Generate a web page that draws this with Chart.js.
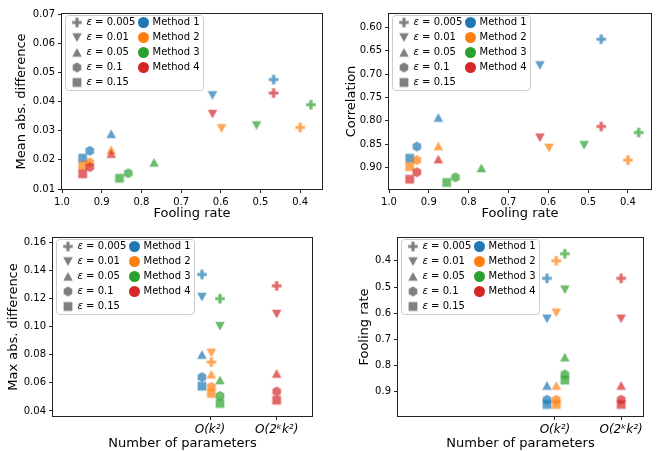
<!DOCTYPE html>
<html>
<head>
<meta charset="utf-8">
<script src="https://cdn.jsdelivr.net/npm/chart.js@4.4.1/dist/chart.umd.min.js"></script>
<style>
  body { margin: 0; background: #fff; }
  #wrap { position: relative; width: 659px; height: 451px; }
  .panel { position: absolute; }
</style>
</head>
<body>
<div id="wrap">
  <div class="panel" style="left:0;top:0"><canvas id="meanChart" width="330" height="225"></canvas></div>
  <div class="panel" style="left:330px;top:0"><canvas id="corrChart" width="329" height="225"></canvas></div>
  <div class="panel" style="left:0;top:225px"><canvas id="maxChart" width="330" height="226"></canvas></div>
  <div class="panel" style="left:330px;top:225px"><canvas id="frChart" width="329" height="226"></canvas></div>
</div>
<script>
// data: rows = methods, columns = epsilon values
const methods = ['Method 1', 'Method 2', 'Method 3', 'Method 4'];
const epsLabels = ['0.005', '0.01', '0.05', '0.1', '0.15'];

const foolingRate = [
    [0.467, 0.621, 0.876, 0.930, 0.948],
    [0.400, 0.598, 0.876, 0.930, 0.948],
    [0.373, 0.510, 0.768, 0.833, 0.855],
    [0.467, 0.621, 0.876, 0.930, 0.948]
];
const meanAbsDiff = [
    [0.0475, 0.0421, 0.0289, 0.0231, 0.0206],
    [0.0311, 0.0308, 0.0234, 0.0191, 0.0180],
    [0.0389, 0.0318, 0.0191, 0.0154, 0.0137],
    [0.0429, 0.0357, 0.0221, 0.0175, 0.0152]
];
const correlation = [
    [0.625, 0.681, 0.793, 0.855, 0.880],
    [0.884, 0.858, 0.854, 0.884, 0.898],
    [0.825, 0.852, 0.901, 0.921, 0.932],
    [0.812, 0.836, 0.882, 0.910, 0.925]
];
const maxAbsDiff = [
    [0.137, 0.121, 0.080, 0.064, 0.0576],
    [0.0747, 0.0813, 0.066, 0.0571, 0.0524],
    [0.1198, 0.1003, 0.0619, 0.0507, 0.0453],
    [0.1289, 0.1089, 0.0666, 0.0538, 0.0476]
];

// number of parameters: group per method and small offset so markers don't overlap
const paramLabels = ['O(k²)', 'O(2ᵏk²)'];
const paramGroup = [1, 1, 1, 2];
const jitter = [-0.12, 0.02, 0.15, 0];

// tick labels
const frTicks = [1.0, 0.9, 0.8, 0.7, 0.6, 0.5, 0.4];
const meanTicks = [0.01, 0.02, 0.03, 0.04, 0.05, 0.06, 0.07];
const corrTicks = [0.60, 0.65, 0.70, 0.75, 0.80, 0.85, 0.90];
const maxTicks = [0.04, 0.06, 0.08, 0.10, 0.12, 0.14, 0.16];
const frYTicks = [0.4, 0.5, 0.6, 0.7, 0.8, 0.9];

const FONT = 'DejaVu Sans';
const colors = ['#1f77b4', '#ff7f0e', '#2ca02c', '#d62728'];
const shapes = ['plus', 'down', 'up', 'hex', 'square'];

function rgba(hex, a) {
    const n = parseInt(hex.slice(1), 16);
    return 'rgba(' + (n >> 16) + ',' + ((n >> 8) & 255) + ',' + (n & 255) + ',' + a + ')';
}

// marker images (matplotlib style filled plus, triangles, hexagon, square)
function marker(shape, color) {
    const c = document.createElement('canvas');
    c.width = 12;
    c.height = 12;
    const g = c.getContext('2d');
    g.fillStyle = color;
    g.translate(6, 6);
    g.beginPath();
    if (shape === 'plus') {
        const a = 4.8, b = 1.6;
        g.moveTo(-b, -a); g.lineTo(b, -a); g.lineTo(b, -b); g.lineTo(a, -b);
        g.lineTo(a, b); g.lineTo(b, b); g.lineTo(b, a); g.lineTo(-b, a);
        g.lineTo(-b, b); g.lineTo(-a, b); g.lineTo(-a, -b); g.lineTo(-b, -b);
    } else if (shape === 'down') {
        g.moveTo(-4.8, -4.3); g.lineTo(4.8, -4.3); g.lineTo(0, 4.5);
    } else if (shape === 'up') {
        g.moveTo(-4.8, 4.3); g.lineTo(4.8, 4.3); g.lineTo(0, -4.5);
    } else if (shape === 'hex') {
        for (let i = 0; i < 6; i++) {
            const t = -Math.PI / 2 + i * Math.PI / 3;
            g.lineTo(5 * Math.cos(t), 5 * Math.sin(t));
        }
    } else {
        g.rect(-4.4, -4.4, 8.8, 8.8);
    }
    g.closePath();
    g.fill();
    return c;
}

const methodMarkers = colors.map(col => shapes.map(s => marker(s, rgba(col, 0.7))));
const grayMarkers = shapes.map(s => marker(s, '#808080'));

// frame around the plot area + the two-column legend
const framePlugin = {
    id: 'frameLegend',
    afterDraw(chart) {
        const ctx = chart.ctx;
        const a = chart.chartArea;
        ctx.save();
        ctx.strokeStyle = '#222';
        ctx.lineWidth = 1;
        ctx.strokeRect(a.left - 0.5, a.top - 0.5, a.right - a.left + 1, a.bottom - a.top + 1);

        const bx = Math.round(a.left + 3) + 0.5;
        const by = Math.round(a.top + 1) + 0.5;
        const bw = 138, bh = 75;
        ctx.beginPath();
        ctx.roundRect(bx, by, bw, bh, 3);
        ctx.fillStyle = 'rgba(255,255,255,0.8)';
        ctx.fill();
        ctx.strokeStyle = '#cccccc';
        ctx.stroke();

        ctx.textBaseline = 'middle';
        ctx.fillStyle = '#000';
        epsLabels.forEach((lab, i) => {
            const y = by + 7 + 15 * i;
            ctx.drawImage(grayMarkers[i], bx + 11.5 - 6, y - 6);
            ctx.font = 'italic 10px "' + FONT + '"';
            ctx.fillText('ε', bx + 21, y);
            const w = ctx.measureText('ε').width;
            ctx.font = '10px "' + FONT + '"';
            ctx.fillText(' = ' + lab, bx + 21 + w, y);
        });
        methods.forEach((lab, i) => {
            const y = by + 7 + 15 * i;
            ctx.beginPath();
            ctx.arc(bx + 78, y, 5.5, 0, Math.PI * 2);
            ctx.fillStyle = colors[i];
            ctx.fill();
            ctx.fillStyle = '#000';
            ctx.font = '10px "' + FONT + '"';
            ctx.fillText(lab, bx + 87, y);
        });
        ctx.restore();
    }
};

function scale(o) {
    return {
        type: 'linear',
        min: o.min,
        max: o.max,
        reverse: !!o.reverse,
        afterFit: s => { if (o.width) s.width = o.width; if (o.height) s.height = o.height; },
        afterBuildTicks: s => { s.ticks = o.ticks.map(v => ({ value: v })); },
        ticks: {
            callback: o.format,
            font: { family: FONT, size: o.tickSize || 10, style: o.tickStyle || 'normal' },
            color: '#000',
            padding: 3,
            autoSkip: false,
            maxRotation: 0
        },
        grid: { drawOnChartArea: false, drawTicks: true, tickLength: 4, color: '#222', lineWidth: 1 },
        border: { display: false },
        title: {
            display: true,
            text: o.title,
            font: { family: FONT, size: 13 },
            color: '#000',
            padding: o.titlePad
        }
    };
}

function makeChart(id, datasets, xScale, yScale, pad) {
    const ctx = document.getElementById(id).getContext('2d');
    return new Chart(ctx, {
        type: 'scatter',
        data: { datasets: datasets },
        options: {
            responsive: false,
            animation: false,
            devicePixelRatio: 1,
            events: [],
            layout: { padding: pad },
            plugins: { legend: { display: false }, tooltip: { enabled: false } },
            scales: { x: xScale, y: yScale }
        },
        plugins: [framePlugin]
    });
}

function sets(fn) {
    return methods.map((name, m) => ({
        label: name,
        data: fn(m),
        pointStyle: methodMarkers[m],
        pointRadius: 5,
        order: 3 - m
    }));
}

const fmt1 = v => v.toFixed(1);
const fmt2 = v => v.toFixed(2);
const paramFmt = v => paramLabels[v - 1];

// mean abs. difference vs fooling rate
makeChart('meanChart',
    sets(m => foolingRate[m].map((fr, e) => ({ x: fr, y: meanAbsDiff[m][e] }))),
    scale({ min: 0.345, max: 1.0, reverse: true, ticks: frTicks, format: fmt1, height: 36,
            title: 'Fooling rate', titlePad: { top: 0, bottom: 4 } }),
    scale({ min: 0.01, max: 0.07, ticks: meanTicks, format: fmt2, width: 62,
            title: 'Mean abs. difference', titlePad: { top: 14, bottom: 0 } }),
    { left: 0, top: 14, right: 8, bottom: 0 });

// correlation vs fooling rate
makeChart('corrChart',
    sets(m => foolingRate[m].map((fr, e) => ({ x: fr, y: correlation[m][e] }))),
    scale({ min: 0.342, max: 1.0, reverse: true, ticks: frTicks, format: fmt1, height: 36,
            title: 'Fooling rate', titlePad: { top: 0, bottom: 4 } }),
    scale({ min: 0.571, max: 0.946, reverse: true, ticks: corrTicks, format: fmt2, width: 59,
            title: 'Correlation', titlePad: { top: 14, bottom: 0 } }),
    { left: 0, top: 14, right: 8, bottom: 0 });

// max abs. difference vs number of parameters
makeChart('maxChart',
    sets(m => maxAbsDiff[m].map(v => ({ x: paramGroup[m] + jitter[m], y: v }))),
    scale({ min: -1.355, max: 2.53, ticks: [1, 2], format: paramFmt, height: 35, tickSize: 12, tickStyle: 'italic',
            title: 'Number of parameters', titlePad: { top: 0, bottom: 0 } }),
    scale({ min: 0.0364, max: 0.1629, ticks: maxTicks, format: fmt2, width: 53,
            title: 'Max abs. difference', titlePad: { top: 5.5, bottom: 0 } }),
    { left: 0, top: 13, right: 18, bottom: 0 });

// fooling rate vs number of parameters
makeChart('frChart',
    sets(m => foolingRate[m].map(v => ({ x: paramGroup[m] + jitter[m], y: v }))),
    scale({ min: -1.37, max: 2.33, ticks: [1, 2], format: paramFmt, height: 35, tickSize: 12, tickStyle: 'italic',
            title: 'Number of parameters', titlePad: { top: 0, bottom: 0 } }),
    scale({ min: 0.313, max: 0.992, reverse: true, ticks: frYTicks, format: fmt1, width: 68,
            title: 'Fooling rate', titlePad: { top: 26.5, bottom: 0 } }),
    { left: 0, top: 13, right: 16, bottom: 0 });
</script>
</body>
</html>
